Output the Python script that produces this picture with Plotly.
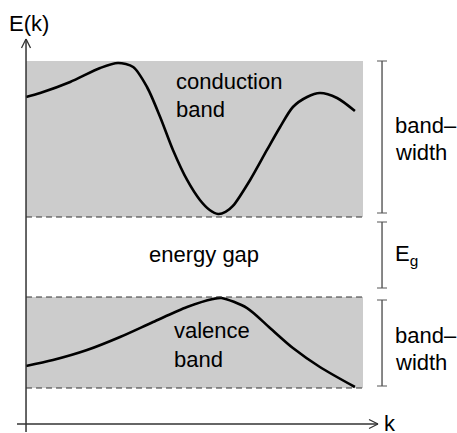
import plotly.graph_objects as go

# ---- Band dispersion E(k): k in fractions of the zone, E in eV ----
k_cond = [0.000, 0.042, 0.131, 0.220, 0.273, 0.318, 0.359, 0.398, 0.436, 0.478,
          0.516, 0.545, 0.570, 0.592, 0.614, 0.665, 0.715, 0.754, 0.792, 0.834,
          0.872, 0.923, 0.976]
E_cond = [2.500, 2.550, 2.688, 2.863, 2.925, 2.875, 2.625, 2.250, 1.838, 1.463,
          1.213, 1.088, 1.038, 1.063, 1.138, 1.463, 1.838, 2.125, 2.375, 2.500,
          2.550, 2.488, 2.325]

k_val = [0.000, 0.080, 0.181, 0.279, 0.377, 0.478, 0.555, 0.580, 0.656, 0.724,
         0.792, 0.872, 0.976]
E_val = [-0.863, -0.788, -0.663, -0.500, -0.313, -0.125, -0.025, -0.012, -0.138,
         -0.388, -0.638, -0.875, -1.125]

# ---- Band edges (eV) ----
E_c = 1.0            # conduction band minimum
E_c_top = 2.95       # top of conduction band
E_v = 0.0            # valence band maximum
E_v_bottom = -1.1375 # bottom of valence band
k_max = 1.0

# ---- Labels ----
label_font = dict(family="Liberation Sans, Arial, sans-serif", size=22, color="#000000")
x_range = [-0.0772, 1.2789]
y_range = [-1.7, 3.7125]

fig = go.Figure()

# shaded bands
band_fill = "#cccccc"
shapes = [
    dict(type="rect", x0=0, x1=k_max, y0=E_c, y1=E_c_top,
         fillcolor=band_fill, line=dict(width=0), layer="below"),
    dict(type="rect", x0=0, x1=k_max, y0=E_v_bottom, y1=E_v,
         fillcolor=band_fill, line=dict(width=0), layer="below"),
]
# dashed band edges
for e in (E_c, E_v, E_v_bottom):
    shapes.append(dict(type="line", x0=0, x1=k_max, y0=e, y1=e,
                       line=dict(color="#333333", width=1, dash="6px,4px")))

# E(k) and k axes with open arrowheads
ax_col = "#333333"
ax_k0, ax_top, ax_bot = 0.0, 3.225, -1.6875
ax_e0, ax_left, ax_right = -1.5875, -0.0267, 1.0445
shapes += [
    dict(type="line", x0=ax_k0, x1=ax_k0, y0=ax_bot, y1=ax_top,
         line=dict(color=ax_col, width=1.5)),
    dict(type="line", x0=ax_k0 - 0.0134, x1=ax_k0, y0=ax_top - 0.1125, y1=ax_top,
         line=dict(color=ax_col, width=1.3)),
    dict(type="line", x0=ax_k0 + 0.0134, x1=ax_k0, y0=ax_top - 0.1125, y1=ax_top,
         line=dict(color=ax_col, width=1.3)),
    dict(type="line", x0=ax_left, x1=ax_right, y0=ax_e0, y1=ax_e0,
         line=dict(color=ax_col, width=1.5)),
    dict(type="line", x0=ax_right - 0.0267, x1=ax_right, y0=ax_e0 + 0.056, y1=ax_e0,
         line=dict(color=ax_col, width=1.3)),
    dict(type="line", x0=ax_right - 0.0267, x1=ax_right, y0=ax_e0 - 0.056, y1=ax_e0,
         line=dict(color=ax_col, width=1.3)),
]

# brackets for bandwidths and the gap
br_k = 1.0564
br_w = 0.0148
brackets = [(E_c_top, E_c + 0.05), (E_c - 0.0625, E_v + 0.1125), (E_v - 0.0375, E_v_bottom + 0.025)]
for top, bot in brackets:
    shapes.append(dict(type="line", x0=br_k, x1=br_k, y0=bot, y1=top,
                       line=dict(color="#111111", width=1)))
    for e in (top, bot):
        shapes.append(dict(type="line", x0=br_k - br_w, x1=br_k + br_w, y0=e, y1=e,
                           line=dict(color="#555555", width=1)))

# dispersion curves
for kk, ee in ((k_cond, E_cond), (k_val, E_val)):
    fig.add_trace(go.Scatter(x=kk, y=ee, mode="lines",
                             line=dict(color="black", width=2.6, shape="spline", smoothing=0.8),
                             hoverinfo="skip", showlegend=False))

def label(text, x, y, anchor="left"):
    return dict(text=text, x=x, y=y, xref="x", yref="y", xanchor=anchor, yanchor="middle",
                showarrow=False, font=label_font, align="left")

annotations = [
    label("conduction", 0.439, 2.695),
    label("band", 0.439, 2.345),
    label("energy gap", 0.529, 0.53, anchor="center"),
    label("valence", 0.433, -0.418),
    label("band", 0.433, -0.78),
    label("band\u2013", 1.089, 2.145),
    label("width", 1.089, 1.807),
    label("E<sub>g</sub>", 1.089, 0.52),
    label("band\u2013", 1.089, -0.48),
    label("width", 1.089, -0.818),
    label("E(k)", -0.0555, 3.42),
    label("k", 1.056, -1.575),
]

fig.update_layout(
    width=457, height=433,
    margin=dict(l=0, r=0, t=0, b=0),
    paper_bgcolor="white", plot_bgcolor="white",
    xaxis=dict(range=x_range, visible=False, fixedrange=True),
    yaxis=dict(range=y_range, visible=False, fixedrange=True),
    shapes=shapes, annotations=annotations,
    showlegend=False,
)

fig.write_html("out.html")
